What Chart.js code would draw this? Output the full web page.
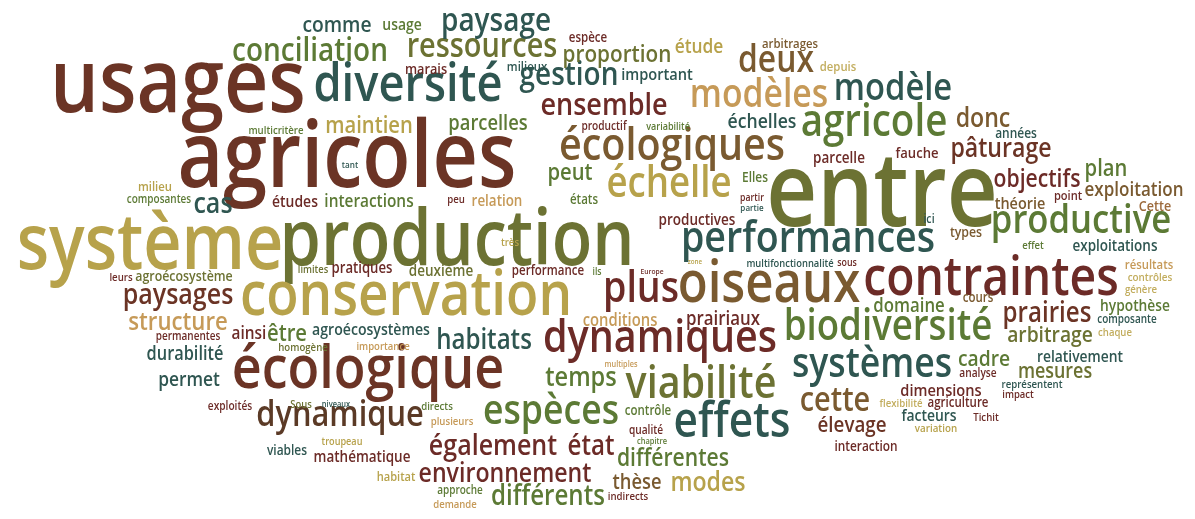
<!DOCTYPE html>
<html>
<head>
<meta charset="utf-8">
<script src="https://cdn.jsdelivr.net/npm/chart.js@4.4.1/dist/chart.umd.min.js"></script>
<style>
  html, body { margin: 0; padding: 0; background: #ffffff; }
  #wrap { width: 1195px; height: 519px; position: relative; }
</style>
</head>
<body>
<div id="wrap"><canvas id="cloud"></canvas></div>
<script>
// words of the cloud, biggest first
const words = [
  'usages', 'agricoles', 'production', 'entre', 'système', 'conservation', 'écologique', 'contraintes', 'oiseaux', 'diversité',
  'performances', 'écologiques', 'dynamiques', 'viabilité', 'effets', 'biodiversité', 'agricole', 'échelle', 'plus', 'espèces',
  'systèmes', 'productive', 'modèles', 'modèle', 'deux', 'dynamique', 'cette', 'conciliation', 'ressources', 'paysage',
  'gestion', 'ensemble', 'différents', 'paysages', 'également', 'cas', 'prairies', 'habitats', 'état', 'temps',
  'environnement', 'pâturage', 'donc', 'modes', 'structure', 'maintien', 'différentes', 'objectifs', 'proportion', 'peut',
  'plan', 'être', 'cadre', 'arbitrage', 'comme', 'élevage', 'parcelles', 'thèse', 'mesures', 'échelles',
  'permet', 'étude', 'exploitation', 'prairiaux', 'domaine', 'durabilité', 'interactions', 'ainsi', 'conditions', 'dimensions',
  'important', 'théorie', 'agroécosystèmes', 'usage', 'études', 'facteurs', 'relativement', 'hypothèse', 'productives', 'exploitations',
  'parcelle', 'mathématique', 'deuxième', 'relation', 'pratiques', 'fauche', 'marais', 'Cette', 'agroécosystème', 'types',
  'années', 'viables', 'Elles', 'interaction', 'espèce', 'performance', 'agriculture', 'contrôle', 'cours', 'états',
  'arbitrages', 'depuis', 'milieux', 'milieu', 'résultats', 'point', 'habitat', 'ici', 'peu', 'très',
  'productif', 'exploités', 'analyse', 'qualité', 'composantes', 'composante', 'permanentes', 'approche', 'contrôles', 'variation',
  'multicritère', 'leurs', 'génère', 'représentent', 'homogène', 'directs', 'plusieurs', 'flexibilité', 'Tichit', 'indirects',
  'chaque', 'importance', 'demande', 'impact', 'effet', 'Sous', 'limites', 'multifonctionnalité', 'troupeau', 'variabilité',
  'sous', 'ils', 'partir', 'tant', 'partie', 'chapitre', 'niveaux', 'multiples', 'Europe', 'zone'
];

// weight of each word (drawn as its font size)
const weights = [
  80, 82, 69, 92, 69, 55, 54, 48, 51, 47,
  39, 41, 41, 41, 44, 38, 40, 38, 39, 37,
  37, 36, 35, 34, 33, 32, 30, 29, 30, 29,
  29, 28, 25, 26, 26, 26, 25, 25, 25, 24.5,
  24, 24, 24, 24, 23, 21, 22, 22, 21.5, 21,
  21, 21, 20, 20, 20, 19.5, 19, 19, 18.6, 18.3,
  18, 18, 17.7, 17.5, 17.4, 17, 16, 16, 15.4, 15.2,
  15.2, 15, 14.6, 14.5, 14.5, 14.5, 14.4, 14.3, 14, 14,
  14, 14, 14, 13.9, 13.7, 13.6, 13.2, 13, 12.9, 12.8,
  12.4, 12.4, 12.3, 12.3, 12, 12, 12, 12, 12, 12,
  11.8, 11.8, 11.8, 11.8, 11.8, 11.5, 11.5, 11, 10, 10,
  10.5, 10.5, 10.5, 10.5, 10.4, 10.4, 10.4, 10.4, 10.3, 10.2,
  10, 10, 10, 10, 10, 10, 10, 10, 10, 10,
  9.9, 9.9, 9.9, 9.8, 9.8, 9.8, 9.7, 9.7, 9.5, 9.4,
  9.2, 9, 9, 8.5, 8.4, 7.8, 7.8, 7.6, 7, 6.5
];

// x of each word's centre on the horizontal scale
const xs = [
  178, 347, 457, 882, 150, 406, 368, 991, 769, 408,
  808, 672, 660, 701, 732, 888, 874, 669, 641, 551,
  872, 1081, 759, 893, 776, 340, 835, 310, 482, 496,
  569, 604, 548, 178, 493, 213, 1047, 484, 591, 581,
  505, 1001, 983, 708, 178, 369, 673, 1037, 617, 570,
  1106, 287, 984, 1050, 337, 852, 488, 637, 1055, 762,
  189, 699, 1134, 723, 909, 185, 369, 249, 620, 941,
  657, 1020, 371, 402, 295, 929, 1080, 1135, 697, 1115,
  839, 362, 441, 497, 362, 917, 426, 1155, 184, 966,
  1016, 287, 755, 866, 588, 548, 958, 648, 978, 584,
  790, 838, 527, 155, 1149, 1068, 396, 929, 456, 510,
  604, 230, 978, 646, 159, 1127, 188, 460, 1150, 936,
  276, 121, 1141, 1032, 303, 437, 452, 901, 986, 628,
  1115, 383, 455, 1018, 1033, 301, 313, 790, 342, 668,
  847, 597, 752, 350, 752, 652, 336, 621, 652, 695
];

// baseline of each word on the vertical scale (0 at the top)
const ys = [
  112, 187, 265, 226, 269, 315, 388, 295, 302, 101,
  252, 160, 352, 398, 437, 340, 136, 197, 302, 424,
  377, 233, 107, 100, 72, 426, 411, 61, 57, 31,
  85, 115, 505, 304, 455, 213, 322, 349, 455, 386,
  482, 157, 127, 491, 330, 133, 466, 187, 62, 180,
  176, 341, 366, 342, 32, 432, 130, 489, 378, 128,
  386, 53, 196, 325, 312, 360, 207, 339, 326, 396,
  80, 209, 335, 30, 207, 421, 362, 311, 225, 251,
  163, 462, 276, 206, 273, 158, 74, 211, 281, 237,
  138, 455, 182, 451, 42, 275, 407, 415, 302, 204,
  48, 71, 71, 191, 269, 200, 481, 223, 203, 246,
  130, 410, 377, 434, 203, 323, 340, 494, 281, 432,
  134, 281, 293, 388, 351, 410, 425, 407, 421, 500,
  336, 350, 508, 398, 249, 408, 273, 267, 445, 130,
  266, 275, 201, 168, 211, 444, 407, 367, 274, 264
];

// colour family of each word
const tones = [
  'rust', 'rust', 'olive', 'olive', 'mustard', 'mustard', 'rust', 'maroon', 'brown', 'teal',
  'teal', 'brown', 'maroon', 'olive', 'teal', 'green', 'green', 'mustard', 'maroon', 'green',
  'teal', 'green', 'tan', 'teal', 'brown', 'dark', 'brown', 'green', 'olive', 'teal',
  'teal', 'maroon', 'green', 'rust', 'maroon', 'teal', 'rust', 'teal', 'maroon', 'green',
  'maroon', 'rust', 'brown', 'mustard', 'tan', 'mustard', 'green', 'maroon', 'olive', 'green',
  'green', 'green', 'green', 'olive', 'teal', 'rust', 'green', 'brown', 'olive', 'teal',
  'teal', 'mustard', 'brown', 'maroon', 'green', 'teal', 'green', 'maroon', 'tan', 'maroon',
  'teal', 'brown', 'teal', 'green', 'maroon', 'teal', 'teal', 'green', 'maroon', 'teal',
  'maroon', 'maroon', 'olive', 'tan', 'maroon', 'maroon', 'maroon', 'copper', 'olive', 'brown',
  'teal', 'teal', 'green', 'maroon', 'maroon', 'maroon', 'maroon', 'green', 'brown', 'green',
  'brown', 'pale', 'teal', 'mustard', 'tan', 'maroon', 'mustard', 'teal', 'maroon', 'mustard',
  'maroon', 'maroon', 'maroon', 'maroon', 'green', 'teal', 'maroon', 'green', 'pale', 'mustard',
  'green', 'maroon', 'pale', 'teal', 'olive', 'green', 'tan', 'pale', 'maroon', 'maroon',
  'pale', 'tan', 'tan', 'maroon', 'green', 'olive', 'olive', 'teal', 'mustard', 'green',
  'maroon', 'green', 'maroon', 'teal', 'teal', 'green', 'teal', 'tan', 'maroon', 'mustard'
];

const palette = {
  rust: '#6b3425',
  maroon: '#6c2b27',
  olive: '#6c7233',
  green: '#5c7a35',
  mustard: '#b7a24b',
  tan: '#c69a58',
  brown: '#7a5a30',
  teal: '#2f5651',
  dark: '#5b3a26',
  pale: '#c2ad5e',
  copper: '#9c6a3c'
};

const FONT = '"Open Sans", "Noto Sans", sans-serif';
// the cloud's typeface is taller and narrower than Open Sans
const TALL = 1.12;
const NARROW = 0.86;

// draws every word at the pixel its point got from the scales
const wordPlugin = {
    id: 'words',
    afterDatasetsDraw(chart) {
        const ctx = chart.ctx;
        const meta = chart.getDatasetMeta(0);
        ctx.save();
        ctx.textAlign = 'center';
        ctx.textBaseline = 'alphabetic';
        meta.data.forEach((pt, i) => {
            ctx.save();
            ctx.translate(pt.x, pt.y);
            ctx.scale(NARROW, 1);
            ctx.font = `600 ${(weights[i] * TALL).toFixed(1)}px ${FONT}`;
            ctx.fillStyle = palette[tones[i]];
            ctx.fillText(words[i], 0, 0);
            ctx.restore();
        });
        ctx.restore();
    }
};

function drawCloud() {
    const ctx = document.getElementById('cloud');
    new Chart(ctx, {
        type: 'scatter',
        data: {
            datasets: [{
                label: 'mots',
                data: words.map((w, i) => ({ x: xs[i], y: ys[i] })),
                pointRadius: 0,
                pointHoverRadius: 0
            }]
        },
        options: {
            responsive: true,
            maintainAspectRatio: false,
            animation: false,
            layout: { padding: 0 },
            plugins: {
                legend: { display: false },
                tooltip: { enabled: false },
                title: { display: false }
            },
            scales: {
                x: { type: 'linear', min: 0, max: 1195, display: false },
                y: { type: 'linear', min: 0, max: 519, reverse: true, display: false }
            }
        },
        plugins: [wordPlugin]
    });
}

drawCloud();
</script>
</body>
</html>
